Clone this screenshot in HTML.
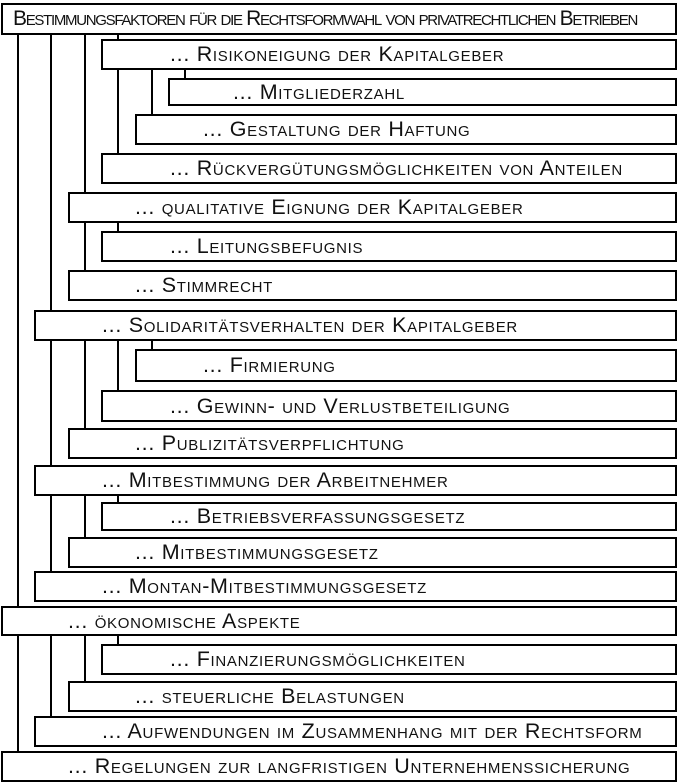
<!DOCTYPE html>
<html><head><meta charset="utf-8"><style>
body{margin:0;width:678px;height:782px;background:#fff;position:relative;overflow:hidden;font-family:"Liberation Sans",sans-serif}
.b{position:absolute;box-sizing:border-box;border:2px solid #000;background:#fff;right:1px;font-variant:small-caps;font-size:21.5px;letter-spacing:0.7px;white-space:nowrap;display:flex;align-items:center;color:#111}
.l{position:absolute;width:2px;background:#000}
</style></head><body>
<div class="l" style="left:17px;top:34px;height:717px"></div>
<div class="l" style="left:50px;top:34px;height:537px"></div>
<div class="l" style="left:84px;top:34px;height:236px"></div>
<div class="l" style="left:117px;top:34px;height:5px"></div>
<div class="l" style="left:184px;top:69px;height:9px"></div>
<div class="l" style="left:151px;top:69px;height:45px"></div>
<div class="l" style="left:117px;top:69px;height:84px"></div>
<div class="l" style="left:117px;top:222px;height:9px"></div>
<div class="l" style="left:151px;top:340px;height:9px"></div>
<div class="l" style="left:117px;top:340px;height:50px"></div>
<div class="l" style="left:84px;top:340px;height:88px"></div>
<div class="l" style="left:117px;top:495px;height:7px"></div>
<div class="l" style="left:84px;top:495px;height:42px"></div>
<div class="l" style="left:117px;top:635px;height:9px"></div>
<div class="l" style="left:84px;top:635px;height:46px"></div>
<div class="l" style="left:50px;top:635px;height:81px"></div>

<div class="b" style="left:1px;top:3px;height:32px;padding-left:10px;font-size:21px;letter-spacing:-1.3px">Bestimmungsfaktoren für die Rechtsformwahl von privatrechtlichen Betrieben</div>
<div class="b" style="left:101px;top:39px;height:31px;padding-left:67px">... Risikoneigung der Kapitalgeber</div>
<div class="b" style="left:168px;top:78px;height:28px;padding-left:63px">... Mitgliederzahl</div>
<div class="b" style="left:135px;top:114px;height:31px;padding-left:66px">... Gestaltung der Haftung</div>
<div class="b" style="left:101px;top:153px;height:31px;padding-left:67px">... Rückvergütungsmöglichkeiten von Anteilen</div>
<div class="b" style="left:68px;top:192px;height:31px;padding-left:65px">... qualitative Eignung der Kapitalgeber</div>
<div class="b" style="left:101px;top:231px;height:31px;padding-left:67px">... Leitungsbefugnis</div>
<div class="b" style="left:68px;top:270px;height:31px;padding-left:65px">... Stimmrecht</div>
<div class="b" style="left:34px;top:310px;height:31px;padding-left:66px">... Solidaritätsverhalten der Kapitalgeber</div>
<div class="b" style="left:135px;top:349px;height:33px;padding-left:66px">... Firmierung</div>
<div class="b" style="left:101px;top:390px;height:32px;padding-left:67px">... Gewinn- und Verlustbeteiligung</div>
<div class="b" style="left:68px;top:428px;height:31px;padding-left:65px">... Publizitätsverpflichtung</div>
<div class="b" style="left:34px;top:465px;height:31px;padding-left:66px">... Mitbestimmung der Arbeitnehmer</div>
<div class="b" style="left:101px;top:502px;height:29px;padding-left:67px">... Betriebsverfassungsgesetz</div>
<div class="b" style="left:68px;top:537px;height:31px;padding-left:65px">... Mitbestimmungsgesetz</div>
<div class="b" style="left:34px;top:571px;height:31px;padding-left:66px">... Montan-Mitbestimmungsgesetz</div>
<div class="b" style="left:1px;top:606px;height:30px;padding-left:65px">... ökonomische Aspekte</div>
<div class="b" style="left:101px;top:644px;height:31px;padding-left:67px">... Finanzierungsmöglichkeiten</div>
<div class="b" style="left:68px;top:681px;height:31px;padding-left:65px">... steuerliche Belastungen</div>
<div class="b" style="left:34px;top:716px;height:31px;padding-left:66px">... Aufwendungen im Zusammenhang mit der Rechtsform</div>
<div class="b" style="left:1px;top:751px;height:31px;padding-left:65px">... Regelungen zur langfristigen Unternehmenssicherung</div>
</body></html>
